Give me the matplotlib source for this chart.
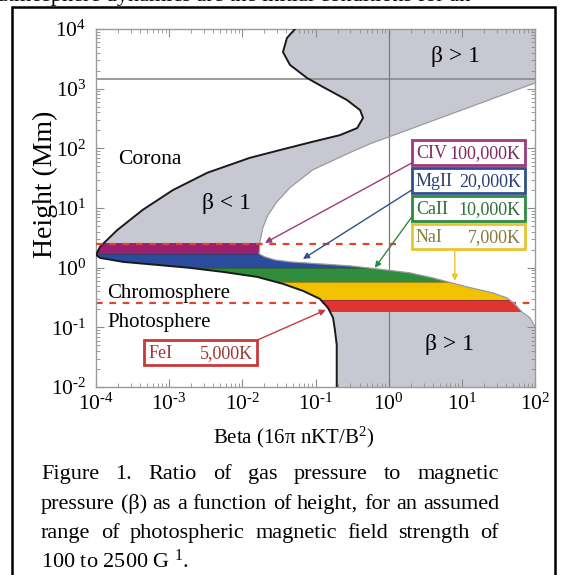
import numpy as np
import matplotlib
matplotlib.use("Agg")
import matplotlib.pyplot as plt
from matplotlib.patches import Rectangle, Polygon

plt.rcParams['font.family'] = ['Liberation Serif', 'DejaVu Serif']
plt.rcParams['mathtext.fontset'] = 'custom'
plt.rcParams['mathtext.rm'] = 'Liberation Serif'
plt.rcParams['mathtext.it'] = 'Liberation Serif:italic'
plt.rcParams['mathtext.default'] = 'regular'

# ---------------- data (log10 beta, log10 height[Mm]) ----------------
# left (black) boundary of the beta<1 / band region, from top to bottom
left_logbeta = [-1.28, -1.39, -1.445, -1.35, -1.117, -0.90, -0.57, -0.39, -0.35, -0.43,
                -0.67, -1.04, -1.49, -1.90, -2.48, -2.95, -3.36, -3.71, -3.945, -4.0,
                -3.945, -3.63, -3.17, -2.72, -2.27, -1.80, -1.445, -1.17, -0.94, -0.83,
                -0.76, -0.735, -0.71, -0.71]
left_logh = [4.0, 3.85, 3.615, 3.40, 3.18, 3.03, 2.81, 2.64, 2.51, 2.34,
             2.22, 2.11, 1.97, 1.84, 1.59, 1.30, 0.97, 0.63, 0.35, 0.214,
             0.164, 0.097, 0.047, -0.003, -0.07, -0.154, -0.271, -0.389, -0.523, -0.673,
             -0.841, -1.042, -1.293, -2.0]
# right (grey) boundary, from top to bottom
right_logbeta = [2.05, 2.05, 2.0, 0.0, -0.26, -0.57, -1.04, -1.35, -1.53, -1.65,
                 -1.72, -1.76, -1.77, -1.69, -1.555, -1.35, -0.94, -0.53, -0.16, 0.29,
                 0.60, 1.07, 1.42, 1.615, 1.72, 1.82, 1.93, 2.0, 2.05, 2.05]
right_logh = [4.0, 3.095, 3.095, 2.19, 2.074, 1.906, 1.638, 1.34, 1.10, 0.88,
              0.67, 0.43, 0.23, 0.18, 0.13, 0.097, 0.064, 0.03, -0.02, -0.087,
              -0.171, -0.322, -0.422, -0.506, -0.606, -0.74, -0.84, -0.99, -0.99, -2.0]

# emission-line formation layers (log10 height bounds)
band_names = ['CIV', 'MgII', 'CaII', 'NaI', 'FeI']
band_temps = ['100,000K', '20,000K', '10,000K', '7,000K', '5,000K']
band_top_logh = [0.415, 0.231, -0.003, -0.238, -0.539]
band_bot_logh = [0.231, -0.003, -0.238, -0.539, -0.740]
band_colors = ['#9b1f6f', '#2b4c9c', '#2f8d3c', '#f2c200', '#e23333']
band_edge_colors = ['#9b3a80', '#2f4f8f', '#2f8a3f', '#e9c430', '#c83a3a']
band_text_colors = ['#7e2a64', '#2e3f78', '#2f6f3a', '#8a7a3a', '#a03535']

# label boxes: centre (log beta, log h)
box_cx = [1.089, 1.089, 1.089, 1.089, -2.566]
box_cy = [1.931, 1.462, 0.993, 0.516, -1.419]
# arrows: start and end (log beta, log h)
arr_x0 = [0.317, 0.317, 0.317, 0.904, -1.787]
arr_y0 = [1.755, 1.303, 0.851, 0.298, -1.209]
arr_x1 = [-1.691, -1.172, -0.189, 0.904, -0.858]
arr_y1 = [0.415, 0.147, -0.003, -0.221, -0.707]

dashed_logh = [0.405, -0.59]
dashed_logbeta_end = [0.18, 2.0]
hline_logh = 3.163
vline_logbeta = 0.0

xticks_log = [-4, -3, -2, -1, 0, 1, 2]
yticks_log = [-2, -1, 0, 1, 2, 3, 4]

grey_fill = '#c8c8d3'

# ---------------- figure ----------------
W, H = 562, 575
fig = plt.figure(figsize=(W / 100, H / 100), dpi=100)
ax = fig.add_axes([96 / W, 1 - 387 / H, 439 / W, 358 / H])
ax.set_xscale('log')
ax.set_yscale('log')
ax.set_xlim(1e-4, 1e2)
ax.set_ylim(1e-2, 1e4)

pw = lambda a: 10 ** np.asarray(a, dtype=float)

# region polygon (left boundary then right boundary reversed)
poly_x = np.concatenate([pw(left_logbeta), pw(right_logbeta)[::-1]])
poly_y = np.concatenate([pw(left_logh), pw(right_logh)[::-1]])
region = Polygon(np.column_stack([poly_x, poly_y]), closed=True,
                 facecolor=grey_fill, edgecolor='none', transform=ax.transData, zorder=1)
ax.add_patch(region)

# reference lines
ax.axhline(pw(hline_logh), color='#8a8a8a', lw=1.2, zorder=2)
ax.axvline(pw(vline_logbeta), color='#7a7a80', lw=0.9, zorder=2)

# coloured bands, clipped to region
for top, bot, c in zip(band_top_logh, band_bot_logh, band_colors):
    sp = ax.axhspan(pw(bot), pw(top), color=c, lw=0, zorder=3)
    sp.set_clip_path(region)
# dark lines between bands
for b in band_bot_logh[:-1]:
    ln = ax.axhline(pw(b), color='#333333', lw=0.5, alpha=0.6, zorder=3.5)
    ln.set_clip_path(region)

# boundaries
ax.plot(pw(left_logbeta), pw(left_logh), color='#1a1a1a', lw=1.4, zorder=4)
ax.plot(pw(right_logbeta[2:-2]), pw(right_logh[2:-2]), color='#9a9aa2', lw=0.9, zorder=4)

# dashed lines
ax.plot([1e-4, pw(dashed_logbeta_end[0])], [pw(dashed_logh[0])] * 2,
        color='#e0452a', lw=1.6, ls=(0, (3, 3)), zorder=5)
ax.plot([1e-4, pw(dashed_logbeta_end[1])], [pw(dashed_logh[1])] * 2,
        color='#e0452a', lw=1.6, ls=(0, (3, 3)), zorder=2.5)

# region labels
ax.text(pw(-3.70), pw(1.739), 'Corona', fontsize=15.5, ha='left', va='baseline', zorder=6)
ax.text(pw(-2.224), pw(1.069), 'β < 1', fontsize=17, ha='center', va='center', zorder=6)
ax.text(pw(0.911), pw(3.531), 'β > 1', fontsize=17, ha='center', va='center', zorder=6)
ax.text(pw(0.836), pw(-1.293), 'β > 1', fontsize=17, ha='center', va='center', zorder=6)
ax.text(pw(-3.85), pw(-0.506), 'Chromosphere', fontsize=15, ha='left', va='baseline', zorder=6)
ax.text(pw(-3.85), pw(-0.992), 'Photosphere', fontsize=15, ha='left', va='baseline', zorder=6)

# arrows
for i in range(5):
    ax.annotate('', xy=(pw(arr_x1[i]), pw(arr_y1[i])), xytext=(pw(arr_x0[i]), pw(arr_y0[i])),
                arrowprops=dict(arrowstyle='-|>', color=band_edge_colors[i], lw=1.0,
                                mutation_scale=9, shrinkA=0, shrinkB=0), zorder=6)

# label boxes (fixed width in pixels)
box_w_px, box_h_px = 113, 25
for i in range(5):
    cx, cy = ax.transData.transform((pw(box_cx[i]), pw(box_cy[i])))
    rect = Rectangle((cx - box_w_px / 2, cy - box_h_px / 2), box_w_px, box_h_px,
                     transform=None, facecolor='white', edgecolor=band_edge_colors[i],
                     lw=2.0, zorder=7)
    ax.add_artist(rect)
    name, temp = band_names[i], band_temps[i]
    ax.text(cx - box_w_px / 2 + 4, cy - 1, name, transform=None, fontsize=13,
            color=band_text_colors[i], ha='left', va='center', zorder=8)
    ax.text(cx + box_w_px / 2 - 4, cy - 1, temp, transform=None, fontsize=13,
            color=band_text_colors[i], ha='right', va='center', zorder=8)

# axes styling
def fmt(v):
    s = str(abs(v))
    if v < 0:
        s = '\u2010' + s
    return r'$10^{%s}$' % s

ax.set_xticks(pw(xticks_log))
ax.set_xticklabels([fmt(v) for v in xticks_log])
ax.set_yticks(pw(yticks_log))
ax.set_yticklabels([fmt(v) for v in yticks_log])
ax.tick_params(which='both', direction='in', top=True, right=True, color='#8c8c8c',
               labelsize=15.5)
ax.tick_params(which='major', length=6, width=0.8)
ax.tick_params(which='minor', length=3, width=0.6)
ax.tick_params(axis='x', pad=5)
ax.tick_params(axis='y', pad=7)
for s in ax.spines.values():
    s.set_color('#9a9a9a')
    s.set_linewidth(1.0)

fig.text(294 / W, 1 - 443 / H, 'Beta (16\u03c0 nKT/B$^2$)', fontsize=15, ha='center',
         va='baseline')
fig.text(45 / W, 1 - 184 / H, 'Height (Mm)', fontsize=20, rotation=90, ha='center',
         va='center')

# outer frame
fig.add_artist(Rectangle((12 / W, -0.05), (555 - 12) / W, (1 - 7 / H) + 0.05,
                         transform=fig.transFigure, facecolor='none', edgecolor='black',
                         lw=1.8, zorder=10))

# cut-off text above the frame
fig.text(-2 / W, 1 - 1 / H, 'atmosphere dynamics are the initial conditions for an',
         fontsize=16, ha='left', va='baseline')

# caption, justified
caption_lines = ['Figure 1. Ratio of gas pressure to magnetic',
                 'pressure (\u03b2) as a function of height, for an assumed',
                 'range of photospheric magnetic field strength of']
last_line = '100 to 2500 G $^{1}$.'
cap_x0, cap_x1 = 41, 499
baselines = [479, 509, 538, 568]
renderer = fig.canvas.get_renderer()
for line, yb in zip(caption_lines, baselines):
    words = line.split(' ')
    texts = [fig.text(0, 1 - yb / H, w, fontsize=16, ha='left', va='baseline') for w in words]
    widths = [t.get_window_extent(renderer).width for t in texts]
    gap = (cap_x1 - cap_x0 - sum(widths)) / (len(words) - 1)
    x = cap_x0
    for t, w in zip(texts, widths):
        t.set_x(x / W)
        x += w + gap
fig.text(cap_x0 / W, 1 - baselines[3] / H, last_line, fontsize=16, ha='left', va='baseline')

fig.savefig('out.png', dpi=100)
